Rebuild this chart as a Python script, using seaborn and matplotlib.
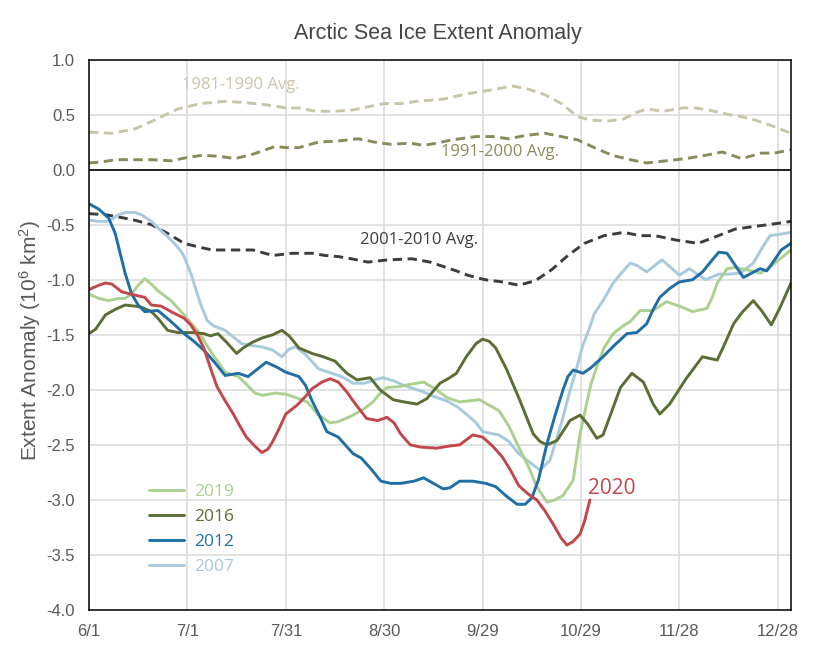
import numpy as np
import pandas as pd
import matplotlib
matplotlib.use("Agg")
import matplotlib.pyplot as plt
import seaborn as sns

# ---------------- data (days since June 1, anomaly in 10^6 km^2) ----------------
tick_days = [0, 30, 60, 90, 120, 150, 180, 210]
tick_labels = ["6/1", "7/1", "7/31", "8/30", "9/29", "10/29", "11/28", "12/28"]

avg8190_day = [0, 7, 14, 20, 27, 34, 41.5, 47, 53.7, 60, 64, 69, 75, 80, 85, 90, 95, 100, 108,
               115.5, 122, 129, 134, 139, 144, 149, 153, 158, 163, 167, 170, 175, 181, 185, 189,
               195, 199, 203, 208, 214]
avg8190_val = [0.34, 0.33, 0.37, 0.45, 0.55, 0.60, 0.62, 0.61, 0.59, 0.56, 0.56, 0.53, 0.53, 0.54,
               0.57, 0.60, 0.60, 0.62, 0.64, 0.69, 0.72, 0.76, 0.73, 0.68, 0.60, 0.48, 0.45, 0.44,
               0.46, 0.52, 0.55, 0.53, 0.56, 0.56, 0.54, 0.50, 0.48, 0.45, 0.40, 0.33]

avg9100_day = [0, 4, 8, 14, 19, 25, 30, 34.5, 40, 44.5, 50, 56.7, 60, 64, 70, 76, 82, 87, 92, 98,
               102, 106, 110.6, 118, 123, 128, 133, 139, 144, 149, 154, 159.5, 165, 170, 176, 182,
               188, 193, 199, 205, 209, 214]
avg9100_val = [0.06, 0.07, 0.09, 0.09, 0.09, 0.08, 0.11, 0.13, 0.12, 0.10, 0.14, 0.21, 0.20, 0.20,
               0.25, 0.26, 0.28, 0.25, 0.23, 0.24, 0.22, 0.24, 0.27, 0.30, 0.30, 0.28, 0.31, 0.33,
               0.30, 0.27, 0.20, 0.13, 0.09, 0.06, 0.08, 0.10, 0.13, 0.16, 0.10, 0.15, 0.15, 0.18]

avg0110_day = [0, 5, 9, 14, 19, 24, 29, 33, 37.5, 44, 50, 56, 62, 68, 72, 76, 80, 85, 91, 98.5,
               104, 108, 112, 115.5, 120.7, 126, 131, 136, 141, 146, 151, 157, 163, 168, 172.5,
               179, 185.7, 191, 197, 202, 207, 212, 214]
avg0110_val = [-0.40, -0.41, -0.43, -0.46, -0.50, -0.58, -0.67, -0.70, -0.73, -0.73, -0.73, -0.78,
               -0.76, -0.76, -0.78, -0.79, -0.81, -0.84, -0.82, -0.81, -0.84, -0.88, -0.92, -0.96,
               -1.00, -1.02, -1.05, -1.01, -0.91, -0.78, -0.67, -0.60, -0.57, -0.60, -0.60, -0.64,
               -0.67, -0.61, -0.54, -0.52, -0.50, -0.48, -0.47]

y2007_day = [0, 3, 6, 9, 11, 14, 16, 19, 21, 24, 26, 28, 29, 31, 32.5, 34, 36, 38, 41.5, 44, 46.5,
             50, 52.7, 56, 58.8, 61, 63, 66, 70, 74, 77, 80.5, 84, 87, 89.6, 93, 96, 99, 102, 105,
             109, 112, 115, 118, 120, 123, 125, 128, 131, 134, 137.5, 140.5, 142.5, 144.5, 146.5,
             148.8, 150.5, 152.7, 154, 156.7, 159.8, 162, 165, 167, 170, 172.5, 174.7, 177, 180,
             183, 185, 188, 192, 195, 198.5, 202.5, 205, 207.6, 210, 214]
y2007_val = [-0.46, -0.47, -0.47, -0.41, -0.39, -0.39, -0.41, -0.47, -0.53, -0.61, -0.67, -0.74,
             -0.79, -0.94, -1.08, -1.22, -1.37, -1.42, -1.46, -1.52, -1.58, -1.60, -1.61, -1.64,
             -1.70, -1.63, -1.61, -1.68, -1.81, -1.85, -1.88, -1.94, -1.94, -1.91, -1.89, -1.92,
             -1.96, -1.99, -2.02, -2.06, -2.10, -2.15, -2.22, -2.30, -2.38, -2.40, -2.41, -2.47,
             -2.58, -2.65, -2.73, -2.64, -2.45, -2.25, -2.02, -1.79, -1.60, -1.43, -1.31, -1.19,
             -1.03, -0.95, -0.85, -0.87, -0.93, -0.87, -0.82, -0.88, -0.96, -0.90, -0.94, -1.00,
             -0.95, -0.95, -0.94, -0.85, -0.72, -0.60, -0.59, -0.57]

y2012_day = [0, 3, 6, 8, 9, 11, 13, 15, 17, 21, 25, 29, 32, 35, 38, 41.5, 45.5, 48.5, 51, 54, 57,
             60, 64, 66, 68, 70.5, 72.5, 76, 80.5, 83, 86, 89, 92, 95, 99, 102, 105, 108, 110, 113,
             117, 121, 124, 127, 130.5, 133, 135, 137, 139.6, 142, 144.5, 146, 147.6, 150.6, 153,
             156.7, 160, 164, 167, 170, 172, 174, 177, 180, 184, 187, 190, 192, 194.5, 197, 199.5,
             202, 204.6, 206.6, 209, 211, 214]
y2012_val = [-0.31, -0.36, -0.44, -0.58, -0.70, -0.94, -1.13, -1.23, -1.29, -1.28, -1.38, -1.49,
             -1.56, -1.64, -1.74, -1.87, -1.85, -1.88, -1.82, -1.75, -1.79, -1.84, -1.88, -1.96,
             -2.10, -2.25, -2.38, -2.43, -2.58, -2.62, -2.72, -2.83, -2.85, -2.85, -2.83, -2.80,
             -2.85, -2.90, -2.89, -2.83, -2.83, -2.85, -2.88, -2.96, -3.04, -3.04, -2.98, -2.82,
             -2.49, -2.24, -2.00, -1.88, -1.82, -1.85, -1.80, -1.70, -1.60, -1.49, -1.48, -1.40,
             -1.27, -1.16, -1.08, -1.02, -1.00, -0.93, -0.82, -0.75, -0.76, -0.87, -0.98, -0.94,
             -0.90, -0.92, -0.82, -0.73, -0.67]

y2016_day = [0, 2, 5, 8, 11, 14, 16, 19, 21, 24, 27, 31.4, 35, 37, 39.3, 42, 45, 47, 49.7, 52.7,
             56, 58.8, 61, 64, 68, 71.4, 75, 78.6, 81.7, 85.7, 88.7, 92.7, 96, 100, 103, 107, 110,
             112, 115, 118, 120, 122, 124, 127.4, 131.4, 135.4, 137.5, 139.6, 142.7, 146.6, 149.7,
             152, 154.8, 156.7, 159.8, 162, 165.5, 169, 172, 174, 177, 182, 187, 191.5, 194,
             196.5, 199, 202.5, 205, 208, 210.7, 214]
y2016_val = [-1.49, -1.45, -1.32, -1.27, -1.23, -1.24, -1.25, -1.29, -1.35, -1.46, -1.48, -1.48,
             -1.49, -1.51, -1.49, -1.57, -1.67, -1.62, -1.57, -1.53, -1.50, -1.46, -1.51, -1.62,
             -1.67, -1.70, -1.74, -1.85, -1.91, -1.89, -2.00, -2.09, -2.11, -2.13, -2.08, -1.94,
             -1.89, -1.85, -1.70, -1.58, -1.54, -1.56, -1.62, -1.82, -2.10, -2.40, -2.47, -2.50,
             -2.46, -2.28, -2.23, -2.31, -2.44, -2.41, -2.16, -1.98, -1.85, -1.93, -2.13, -2.22,
             -2.13, -1.90, -1.70, -1.73, -1.57, -1.40, -1.30, -1.19, -1.28, -1.41, -1.25, -1.03]

y2019_day = [0, 3, 6, 9, 11, 13, 15, 17, 19, 21, 25, 29, 33, 35, 37.5, 41.5, 45.5, 48, 50.6, 53,
             56.7, 60, 63, 66.5, 70, 73.5, 76, 80.5, 84, 86.6, 88.5, 90.8, 94.8, 98, 102, 106, 109,
             113, 116, 119, 122, 125, 128, 131, 134, 136.5, 139.6, 142, 144.5, 147.6, 149.7, 151,
             153, 154.8, 157, 159.8, 162.8, 165, 168, 172, 176, 180, 184, 188.4, 190, 191.5, 194.5,
             197, 200.6, 204.6, 207, 210.7, 214]
y2019_val = [-1.13, -1.17, -1.19, -1.17, -1.17, -1.13, -1.05, -0.99, -1.04, -1.10, -1.19, -1.32,
             -1.46, -1.55, -1.67, -1.84, -1.88, -1.95, -2.03, -2.05, -2.03, -2.04, -2.07, -2.11,
             -2.23, -2.30, -2.29, -2.23, -2.17, -2.11, -2.04, -1.98, -1.97, -1.95, -1.93, -2.00,
             -2.07, -2.11, -2.10, -2.09, -2.14, -2.19, -2.33, -2.52, -2.70, -2.88, -3.02, -3.00,
             -2.96, -2.82, -2.40, -2.22, -1.95, -1.79, -1.62, -1.49, -1.42, -1.38, -1.28, -1.28,
             -1.20, -1.24, -1.29, -1.26, -1.16, -1.03, -0.90, -0.89, -0.91, -0.94, -0.90, -0.81,
             -0.73]

y2020_day = [0, 3, 5, 7, 10, 14, 17, 19, 22, 25, 29, 31, 33, 35, 37, 39, 41.5, 44, 46, 48, 50.5,
             52.7, 54.5, 56, 58, 60, 63.4, 66, 68, 71, 73.5, 76, 78.6, 81, 84.6, 88, 90.8, 93, 95,
             97.9, 101, 106, 110, 113, 117, 120, 123, 126, 128.5, 131, 134, 136.5, 139, 141.5,
             144, 145.7, 147.5, 149.7, 151, 152.7]
y2020_val = [-1.09, -1.05, -1.03, -1.04, -1.11, -1.14, -1.16, -1.23, -1.24, -1.29, -1.35, -1.41,
             -1.50, -1.62, -1.80, -1.97, -2.10, -2.22, -2.33, -2.43, -2.51, -2.57, -2.54, -2.47,
             -2.35, -2.22, -2.14, -2.06, -1.99, -1.93, -1.90, -1.93, -2.02, -2.12, -2.26, -2.28,
             -2.25, -2.30, -2.40, -2.50, -2.52, -2.53, -2.51, -2.50, -2.41, -2.43, -2.51, -2.61,
             -2.73, -2.87, -2.95, -3.00, -3.10, -3.22, -3.35, -3.41, -3.38, -3.31, -3.20, -3.00]

# ---------------- styling ----------------
C8190 = "#c9c5aa"
C9100 = "#8b8a5c"
C0110 = "#3c3c3c"
C2007 = "#a9c9dd"
C2012 = "#1f6fa6"
C2016 = "#5b6e35"
C2019 = "#acd08f"
C2020 = "#c1474b"

sns.set_theme(style="white")
plt.rcParams["font.family"] = ["Liberation Sans", "DejaVu Sans"]
plt.rcParams["mathtext.default"] = "regular"

fig = plt.figure(figsize=(8.33, 6.56), dpi=100)
ax = fig.add_axes([89 / 833, 1 - 610 / 656, 702 / 833, 550.5 / 656])

LW = 2.1
dash = (0, (3.2, 1.9))
for d, v, c in [(avg8190_day, avg8190_val, C8190),
                (avg9100_day, avg9100_val, C9100),
                (avg0110_day, avg0110_val, C0110)]:
    sns.lineplot(x=d, y=v, ax=ax, color=c, lw=LW, linestyle=dash, legend=False)

handles = {}
for name, d, v, c in [("2007", y2007_day, y2007_val, C2007),
                      ("2019", y2019_day, y2019_val, C2019),
                      ("2016", y2016_day, y2016_val, C2016),
                      ("2012", y2012_day, y2012_val, C2012),
                      ("2020", y2020_day, y2020_val, C2020)]:
    sns.lineplot(x=d, y=v, ax=ax, color=c, lw=LW, legend=False)
    handles[name] = ax.lines[-1]

ax.axhline(0, color="black", lw=1.2, zorder=5)

ax.set_xlim(0, 214)
ax.set_ylim(-4, 1)
ax.set_xticks(tick_days)
ax.set_xticklabels(tick_labels)
ax.set_yticks(np.arange(-4, 1.01, 0.5))
ax.set_yticklabels([f"{t:.1f}" for t in np.arange(-4, 1.01, 0.5)])
ax.tick_params(axis="both", length=0, labelsize=12, labelcolor="#595959", pad=10)
ax.grid(True, color="#dadada", lw=1.1)
ax.set_axisbelow(True)
for s in ax.spines.values():
    s.set_color("black")
    s.set_linewidth(1.1)

ax.set_xlabel("")
ax.set_ylabel("Extent Anomaly (10$^{6}$ km$^{2}$)", fontsize=15, color="#595959")
ax.yaxis.set_label_coords(-0.066, 0.49)
fig.text(438 / 833, 1 - 33 / 656, "Arctic Sea Ice Extent Anomaly", ha="center", va="center",
         fontsize=15.5, color="#454545")

lab = dict(family=["Open Sans", "DejaVu Sans"], fontsize=12, va="center", ha="left")
ax.text(28.4, 0.77, "1981-1990 Avg.", color=C8190, **lab)
ax.text(107.3, 0.16, "1991-2000 Avg.", color=C9100, **lab)
ax.text(82.6, -0.64, "2001-2010 Avg.", color=C0110, **lab)
ax.text(152.0, -2.90, "2020", color=C2020, family=["Open Sans", "DejaVu Sans"],
        fontsize=15, va="center", ha="left")

order = ["2019", "2016", "2012", "2007"]
leg = ax.legend([handles[k] for k in order], order, loc="upper left",
                bbox_to_anchor=(0.0855, 0.229), frameon=False, borderaxespad=0, borderpad=0,
                handlelength=2.0, handletextpad=0.6, labelspacing=0.5,
                prop={"family": "Open Sans", "size": 12.5}, labelcolor="linecolor")

fig.savefig("out.png", dpi=100)
